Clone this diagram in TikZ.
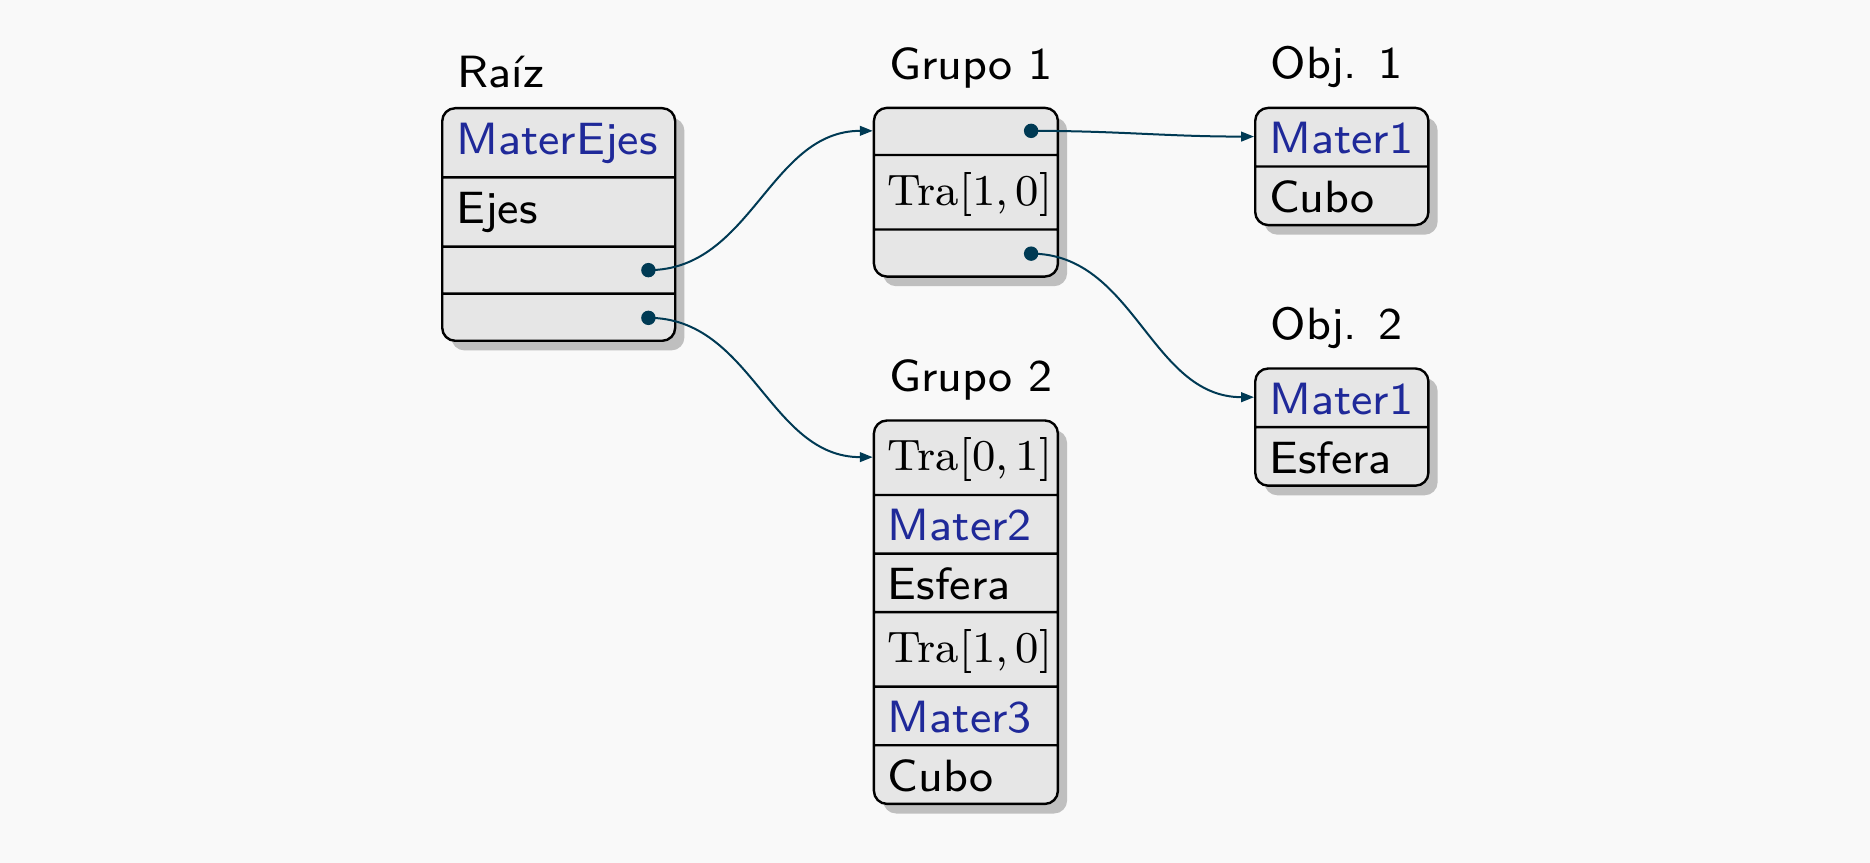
\documentclass[tikz,border=0pt]{standalone}
\usepackage{fontspec}
\setsansfont{lmsans8-regular.otf}
\newfontfamily\romano{lmroman8-regular.otf}
\usepackage{tikz}
\usetikzlibrary{arrows.meta,calc,positioning,shapes.multipart,shadows}
\usepackage{xcolor}
\definecolor{BgGray}{RGB}{249,249,249}
\definecolor{BoxGray}{RGB}{230,230,230}
\definecolor{ShadowGray}{RGB}{191,191,191}
\definecolor{MatBlue}{RGB}{31,41,153}
\definecolor{LinkTeal}{RGB}{0,58,84}

\newcommand{\mater}[1]{\textcolor{MatBlue}{#1}}
\newcommand{\tra}[2]{{\romano\fontsize{11}{14}\selectfont Tra[#1,\,#2]}}
\newcommand{\rowtxt}{\rule[-2.85pt]{0pt}{14.05pt}}
\newcommand{\rowtra}{\rule[-5.775pt]{0pt}{18.025pt}}
\newcommand{\rowraiz}{\rule[-5.5pt]{0pt}{16.7pt}}
\newcommand{\rowdot}{\rule[-5.24pt]{0pt}{11.175pt}}

\tikzset{
  caja/.style={rectangle split, align=left, anchor=north west, draw=black, line width=0.6pt,
    fill=BoxGray, rounded corners=3.25pt, inner xsep=3.5pt, inner ysep=0pt,
    font=\sffamily\fontsize{11.3}{14}\selectfont,
    drop shadow={shadow xshift=2.3pt, shadow yshift=-2.4pt, fill=ShadowGray, opacity=1}},
  etiqueta/.style={inner sep=4pt, font=\sffamily\fontsize{11.3}{14}\selectfont},
  enlace/.style={LinkTeal, line width=0.5pt, -{Triangle[length=3.2pt,width=2.4pt]}}
}

\begin{document}
\begin{tikzpicture}[x=0.25pt, y=-0.25pt]
\fill[BgGray] (0,0) rectangle (1870,863);
\useasboundingbox (0,0) rectangle (1870,863);
% Cajas
\node[caja, rectangle split parts=4, text width=51.25pt] (raiz) at (441,107)
  {\rowraiz\mater{MaterEjes} \nodepart{two}\rowraiz Ejes \nodepart{three}\rowdot \nodepart{four}\rowdot};
\node[caja, rectangle split parts=3, text width=39pt] (grupoA) at (872.7,106.7)
  {\rowdot \nodepart{two}\rowtra\tra{1}{0} \nodepart{three}\rowdot};
\node[caja, rectangle split parts=6, text width=39pt] (grupoB) at (872.7,419.3)
  {\rowtra\tra{0}{1} \nodepart{two}\rowtxt\mater{Mater2} \nodepart{three}\rowtxt Esfera
   \nodepart{four}\rowtra\tra{1}{0} \nodepart{five}\rowtxt\mater{Mater3} \nodepart{six}\rowtxt Cubo};
\node[caja, rectangle split parts=2, text width=36.3pt] (objA) at (1254,106.7)
  {\rowtxt\mater{Mater1} \nodepart{two}\rowtxt Cubo};
\node[caja, rectangle split parts=2, text width=36.3pt] (objB) at (1254,367.3)
  {\rowtxt\mater{Mater1} \nodepart{two}\rowtxt Esfera};

\node[etiqueta, above right=0.5pt and 0pt of raiz.north west] (lraiz) {Raíz};
\node[etiqueta, above right=0.5pt and 0pt of grupoA.north west] (lgrupoA) {Grupo 1};
\node[etiqueta, above right=0.5pt and 0pt of grupoB.north west] (lgrupoB) {Grupo 2};
\node[etiqueta, above right=0.5pt and 0pt of objA.north west] (lobjA) {Obj. 1};
\node[etiqueta, above right=0.5pt and 0pt of objB.north west] (lobjB) {Obj. 2};

% Punteros
\coordinate[xshift=-7pt] (raizC) at ($(raiz.two split east)!.5!(raiz.three split east)$);
\coordinate[xshift=-7pt] (raizD) at ($(raiz.three split east)!.5!(raiz.south east)$);
\coordinate[xshift=-7pt] (grupoAa) at ($(grupoA.north east)!.5!(grupoA.text split east)$);
\coordinate[xshift=-7pt] (grupoAc) at ($(grupoA.two split east)!.5!(grupoA.south east)$);
\coordinate (grupoAin) at ($(grupoA.north west)!.5!(grupoA.text split west)$);
\coordinate (grupoBin) at ($(grupoB.north west)!.5!(grupoB.text split west)$);
\coordinate (objAin) at ($(objA.north west)!.5!(objA.text split west)$);
\coordinate (objBin) at ($(objB.north west)!.5!(objB.text split west)$);

\draw[enlace] (raizC) to[out=0, in=180] (grupoAin);
\draw[enlace] (raizD) to[out=0, in=180] (grupoBin);
\draw[enlace] (grupoAa) to[out=0, in=180] (objAin);
\draw[enlace] (grupoAc) to[out=0, in=180] (objBin);
\foreach \p in {raizC,raizD,grupoAa,grupoAc}
  \fill[LinkTeal] (\p) circle (1.8pt);
\end{tikzpicture}
\end{document}
